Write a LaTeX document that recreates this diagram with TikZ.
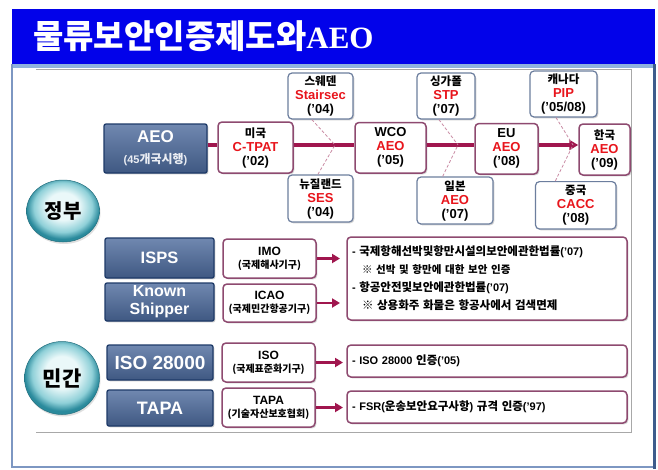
\documentclass[tikz,border=0pt]{standalone}
\usepackage{fontspec}
\setmainfont{Liberation Sans}
\newfontfamily\kr{Noto Sans CJK KR}
\newfontfamily\titleserif{Liberation Serif}
\usetikzlibrary{shadows,calc,arrows.meta,shapes.geometric}
\definecolor{titleB}{HTML}{0202EA}
\definecolor{stripB}{HTML}{8FB2DE}
\definecolor{frameL}{HTML}{7D97C2}
\definecolor{frameR}{HTML}{3E5C8C}
\definecolor{panelG}{HTML}{A8A8A8}
\definecolor{navyE}{HTML}{1E3A68}
\definecolor{boxT}{HTML}{7088B0}
\definecolor{boxB}{HTML}{3F5882}
\definecolor{maroonE}{HTML}{8E4A70}
\definecolor{grayB}{HTML}{6C7E9E}
\definecolor{linkR}{HTML}{A0164E}
\definecolor{txtR}{HTML}{E8151C}
\definecolor{dashP}{HTML}{C98AA3}
\definecolor{bubC}{HTML}{EAF8F9}
\definecolor{bubM}{HTML}{8FD0D8}
\definecolor{bubE}{HTML}{2A8A9C}
\pgfdeclareradialshading{bubble}{\pgfpoint{0bp}{5bp}}{color(0bp)=(bubC); color(11bp)=(bubC); color(20bp)=(bubM); color(25bp)=(bubE); color(50bp)=(bubE)}
\newcommand\K[2]{{\kr\fontsize{#1}{\baselineskip}\selectfont #2}}
\begin{document}
\begin{tikzpicture}[x=1pt,y=-1pt,
  shadowed/.style={drop shadow={shadow xshift=1.3pt,shadow yshift=-1.3pt,opacity=0.3,fill=black!60}},
  darkbox/.style={rectangle,rounded corners=2pt,draw=navyE,line width=1.3pt,top color=boxT,bottom color=boxB,text=white,font=\bfseries,align=center,inner sep=0pt,shadowed},
  pinkbox/.style={rectangle,rounded corners=4pt,draw=maroonE,line width=1.5pt,fill=white,align=center,inner sep=0pt,font=\bfseries,shadowed},
  bluebox/.style={rectangle,rounded corners=4pt,draw=grayB,line width=1.2pt,fill=white,align=center,inner sep=0pt,font=\bfseries,shadowed},
  yearbox/.style={font=\bfseries\fontsize{13}{14}\selectfont},
  orgbox/.style={font=\bfseries\fontsize{12}{13}\selectfont},
  mainlink/.style={draw=linkR,line width=3.5pt},
  arrowlink/.style={draw=linkR,line width=2.5pt,-{Triangle[length=8pt,width=9pt]}},
  dashlink/.style={draw=dashP,line width=0.8pt,dash pattern=on 3pt off 2pt},
  bubblenode/.style={ellipse,shading=bubble,draw=bubE!80!black,line width=0.5pt,inner sep=0pt,font=\bfseries,drop shadow={shadow xshift=1pt,shadow yshift=-2pt,opacity=0.25,fill=black!50}}
]
\useasboundingbox (0,0) rectangle (658,469);
\fill[white] (0,0) rectangle (658,469);
% frame
\fill[titleB] (12,9) rectangle (655,64);
\fill[stripB] (12,64) rectangle (655,67.5);
\draw[frameL,line width=2pt] (12,64) -- (12,467) -- (654,467);
\draw[frameR,line width=3pt] (654,64) -- (654,469);
\draw[panelG,line width=0.6pt] (36,69.5) -- (631,69.5) -- (631,432) -- (36,432);
\node[anchor=west,text=white,inner sep=0pt] (title) at (33,36)
  {\kr\bfseries\fontsize{33}{33}\selectfont 물류보안인증제도와{\titleserif\fontsize{31}{33}\selectfont AEO}};

% bubbles
\node[bubblenode,minimum width=73pt,minimum height=62pt] (gov) at (63,211) {\K{20}{정부}};
\node[bubblenode,minimum width=75pt,minimum height=73pt] (civ) at (62,378) {\K{21}{민간}};

% AEO timeline
\node[darkbox,minimum width=103pt,minimum height=49pt,font=\bfseries\fontsize{11}{21}\selectfont] (aeo) at (155.5,148.5)
  {{\fontsize{17}{21}\selectfont AEO}\\\textcolor{white!85!boxT}{(45\K{12}{개국시행})}};
\node[pinkbox,yearbox,minimum width=75pt,minimum height=51pt] (usa) at (255.5,147.5)
  {\K{11.5}{미국}\\\textcolor{txtR}{C-TPAT}\\('02)};
\node[bluebox,yearbox,minimum width=65pt,minimum height=46pt] (swe) at (320.5,96)
  {\K{11.5}{스웨덴}\\\textcolor{txtR}{Stairsec}\\('04)};
\node[bluebox,yearbox,minimum width=65pt,minimum height=47pt] (nz) at (320.5,198.5)
  {\K{11.5}{뉴질랜드}\\\textcolor{txtR}{SES}\\('04)};
\node[pinkbox,yearbox,minimum width=71pt,minimum height=50.5pt] (wco) at (390.5,147.75)
  {WCO\\\textcolor{txtR}{AEO}\\('05)};
\node[bluebox,yearbox,minimum width=58pt,minimum height=46pt] (sgp) at (446,96)
  {\K{11.5}{싱가폴}\\\textcolor{txtR}{STP}\\('07)};
\node[bluebox,yearbox,minimum width=76pt,minimum height=47pt] (jpn) at (455,200.5)
  {\K{11.5}{일본}\\\textcolor{txtR}{AEO}\\('07)};
\node[pinkbox,yearbox,minimum width=63pt,minimum height=50.5pt] (eu) at (506.5,148.75)
  {EU\\\textcolor{txtR}{AEO}\\('08)};
\node[bluebox,yearbox,minimum width=67pt,minimum height=46pt] (can) at (563.5,94)
  {\K{11.5}{캐나다}\\\textcolor{txtR}{PIP}\\('05/08)};
\node[bluebox,yearbox,minimum width=80.5pt,minimum height=47.4pt] (chn) at (575.75,205.3)
  {\K{11.5}{중국}\\\textcolor{txtR}{CACC}\\('08)};
\node[pinkbox,yearbox,minimum width=51pt,minimum height=51pt] (kor) at (604.5,149.5)
  {\K{11.5}{한국}\\\textcolor{txtR}{AEO}\\('09)};

\coordinate (ml) at (0,145);
\draw[mainlink] (aeo.east |- ml) -- (usa.west |- ml);
\draw[mainlink] (usa.east |- ml) -- (wco.west |- ml);
\draw[mainlink] (wco.east |- ml) -- (eu.west |- ml);
\draw[mainlink,-{Triangle[length=9pt,width=10pt]}] (eu.east |- ml) -- (kor.west |- ml);

\coordinate (j1) at (335,145);
\coordinate (j2) at (458,145);
\coordinate (j3) at (573,145);
\draw[dashlink] ($(swe.south west)!0.37!(swe.south east)$) -- (j1);
\draw[dashlink] ($(nz.north west)!0.46!(nz.north east)$) -- (j1);
\draw[dashlink] ($(sgp.south west)!0.38!(sgp.south east)$) -- (j2);
\draw[dashlink] ($(jpn.north west)!0.34!(jpn.north east)$) -- (j2);
\draw[dashlink] ($(can.south west)!0.39!(can.south east)$) -- (j3);
\draw[dashlink] ($(chn.north west)!0.25!(chn.north east)$) -- (j3);

% government rows
\node[darkbox,minimum width=109pt,minimum height=40pt,font=\bfseries\fontsize{16.5}{18}\selectfont] (isps) at (159.5,258) {ISPS};
\node[darkbox,minimum width=109pt,minimum height=38pt,font=\bfseries\fontsize{16}{18}\selectfont] (known) at (159.5,302) {Known\\Shipper};
\node[pinkbox,orgbox,minimum width=93pt,minimum height=39pt] (imo) at (269.5,258.5) {IMO\\\K{10}{(국제해사기구)}};
\node[pinkbox,orgbox,minimum width=93pt,minimum height=38pt] (icao) at (269.5,303) {ICAO\\\K{10}{(국제민간항공기구)}};
\node[pinkbox,minimum width=280pt,minimum height=83pt,align=left,text width=270pt,font=\bfseries\fontsize{11}{18}\selectfont] (law) at (487,278.5)
  {- \K{11.5}{국제항해선박및항만시설의보안에관한법률}('07)\\
   \hspace*{10pt}\K{10.5}{※ 선박 및 항만에 대한 보안 인증}\\
   - \K{11.5}{항공안전및보안에관한법률}('07)\\
   \hspace*{10pt}\K{11.5}{※ 상용화주 화물은 항공사에서 검색면제}};

% civil rows
\node[darkbox,minimum width=106pt,minimum height=35pt,font=\bfseries\fontsize{19}{20}\selectfont] (iso28) at (160,362.5) {ISO 28000};
\node[darkbox,minimum width=106pt,minimum height=36pt,font=\bfseries\fontsize{18}{20}\selectfont] (tapad) at (160,408) {TAPA};
\node[pinkbox,orgbox,minimum width=93pt,minimum height=39pt] (iso) at (268.5,362.5) {ISO\\\K{10}{(국제표준화기구)}};
\node[pinkbox,orgbox,minimum width=93pt,minimum height=39pt] (tapa) at (268.5,407.5) {TAPA\\\K{10}{(기술자산보호협회)}};
\node[pinkbox,minimum width=280pt,minimum height=32pt,align=left,text width=270pt,font=\bfseries\fontsize{11}{14}\selectfont] (isoc) at (487,361)
  {- ISO 28000 \K{11.5}{인증}('05)};
\node[pinkbox,minimum width=280pt,minimum height=32pt,align=left,text width=270pt,font=\bfseries\fontsize{11}{14}\selectfont] (fsr) at (487,407)
  {- FSR(\K{11.5}{운송보안요구사항}) \K{11.5}{규격 인증}('97)};

\coordinate (ax1) at (340,0);
\coordinate (ax2) at (343,0);
\draw[arrowlink] (imo.east) -- (imo.east -| ax1);
\draw[arrowlink] (icao.east) -- (icao.east -| ax1);
\draw[arrowlink] (iso.east) -- (iso.east -| ax2);
\draw[arrowlink] (tapa.east) -- (tapa.east -| ax2);
\end{tikzpicture}
\end{document}
